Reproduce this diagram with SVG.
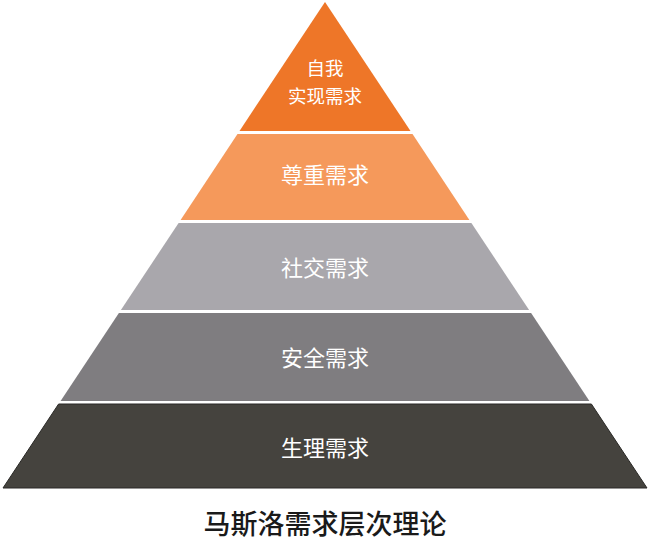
<svg xmlns="http://www.w3.org/2000/svg" width="650" height="556" viewBox="0 0 650 556">
<style>
.lbl{font-family:"Noto Sans CJK SC","Noto Sans",sans-serif;font-size:22px;fill:#ffffff;text-anchor:middle;dominant-baseline:central}
.top{font-size:18.5px}
.title{font-family:"Noto Sans CJK SC","Noto Sans",sans-serif;font-size:27px;font-weight:500;fill:#1a1a1a;text-anchor:middle;dominant-baseline:central}
</style>
<rect width="650" height="556" fill="#ffffff"/>
<g id="self-actualization">
<polygon points="325,2 410.5,131 239.5,131" fill="#EE7628"/>
<text class="lbl top" x="325" y="67"><tspan x="325" y="67">自我</tspan><tspan x="325" y="94.5">实现需求</tspan></text>
</g>
<g id="esteem">
<polygon points="237.5,134 412.5,134 469.4,220 180.6,220" fill="#F5995B"/>
<text class="lbl" x="325" y="173">尊重需求</text>
</g>
<g id="social">
<polygon points="178.6,223 471.4,223 529.1,310 120.9,310" fill="#A9A7AC"/>
<text class="lbl" x="325" y="266">社交需求</text>
</g>
<g id="safety">
<polygon points="118.9,313 531.1,313 589.4,401 60.6,401" fill="#7F7D80"/>
<text class="lbl" x="325" y="356">安全需求</text>
</g>
<g id="physiological">
<polygon points="58.6,404 591.4,404 647,488 3,488" fill="#45433E" stroke="#2a2926" stroke-width="1"/>
<text class="lbl" x="325" y="446">生理需求</text>
</g>
<g id="connectors"></g>
<g id="caption">
<text class="title" x="325" y="522">马斯洛需求层次理论</text>
</g>
</svg>
